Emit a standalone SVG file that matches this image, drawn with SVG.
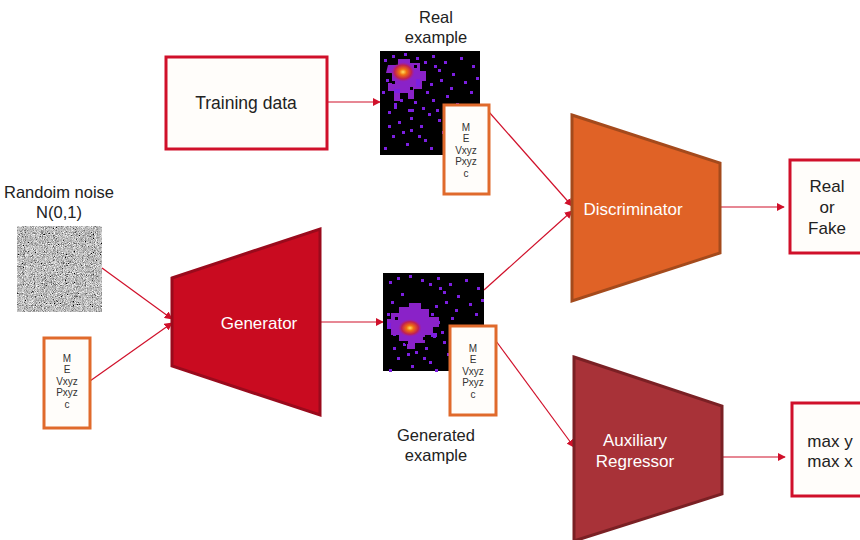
<svg xmlns="http://www.w3.org/2000/svg" width="860" height="540" viewBox="0 0 860 540">
<style>
text{font-family:"Liberation Sans",Arial,sans-serif;}
.lbl{font-size:16.5px;fill:#222;text-anchor:middle;}
.wl{font-size:17px;fill:#fff;text-anchor:middle;}
.sm{font-size:10px;fill:#333;text-anchor:middle;}
.box{fill:#fffdfa;stroke:#d0102a;stroke-width:3;}
.pbox{fill:#fffdfa;stroke:#e06a2c;stroke-width:3;}
.conn{stroke:#d0102a;stroke-width:1.2;fill:none;marker-end:url(#ah);}
.d{fill:#7c1fe0;}
.c{fill:#8a22c8;}
</style>
<defs>
<marker id="ah" viewBox="0 0 10 10" refX="9" refY="5" markerWidth="8" markerHeight="8" markerUnits="userSpaceOnUse" orient="auto"><path d="M0,0 L10,5 L0,10 z" fill="#d0102a"/></marker>
<filter id="noise" x="0" y="0" width="100%" height="100%">
<feTurbulence type="fractalNoise" baseFrequency="1.1" numOctaves="2" seed="3"/>
<feColorMatrix type="matrix" values="0.9 0.9 0.9 0 -0.85  0.9 0.9 0.9 0 -0.85  0.9 0.9 0.9 0 -0.85  0 0 0 0 1"/>
</filter>
<radialGradient id="hot">
<stop offset="0" stop-color="#ffe060"/>
<stop offset="0.3" stop-color="#f07010"/>
<stop offset="0.7" stop-color="#c02050"/>
<stop offset="1" stop-color="#a020a0" stop-opacity="0"/>
</radialGradient>
<g id="scatter">
<rect class="d" x="4" y="8" width="3" height="3"/><rect class="d" x="12" y="4" width="3" height="3"/><rect class="d" x="24" y="2" width="3" height="3"/>
<rect class="d" x="36" y="6" width="3" height="3"/><rect class="d" x="52" y="4" width="3" height="3"/><rect class="d" x="64" y="10" width="3" height="3"/>
<rect class="d" x="80" y="6" width="3" height="3"/><rect class="d" x="92" y="14" width="3" height="3"/><rect class="d" x="72" y="22" width="3" height="3"/>
<rect class="d" x="84" y="30" width="3" height="3"/><rect class="d" x="60" y="28" width="3" height="3"/><rect class="d" x="90" y="40" width="3" height="3"/>
<rect class="d" x="66" y="44" width="3" height="3"/><rect class="d" x="76" y="52" width="3" height="3"/><rect class="d" x="56" y="58" width="3" height="3"/>
<rect class="d" x="88" y="62" width="3" height="3"/><rect class="d" x="8" y="60" width="3" height="3"/><rect class="d" x="18" y="70" width="3" height="3"/>
<rect class="d" x="30" y="66" width="3" height="3"/><rect class="d" x="40" y="74" width="3" height="3"/><rect class="d" x="12" y="84" width="3" height="3"/>
<rect class="d" x="26" y="92" width="3" height="3"/><rect class="d" x="44" y="88" width="3" height="3"/><rect class="d" x="50" y="96" width="3" height="3"/>
<rect class="d" x="4" y="96" width="3" height="3"/><rect class="d" x="70" y="70" width="3" height="3"/><rect class="d" x="62" y="80" width="3" height="3"/>
<rect class="d" x="34" y="50" width="3" height="3"/><rect class="d" x="46" y="40" width="3" height="3"/><rect class="d" x="2" y="40" width="3" height="3"/>
<rect class="d" x="20" y="48" width="3" height="3"/><rect class="d" x="82" y="86" width="3" height="3"/><rect class="d" x="94" y="92" width="3" height="3"/>
<rect class="d" x="58" y="18" width="3" height="3"/><rect class="d" x="48" y="62" width="3" height="3"/><rect class="d" x="38" y="84" width="3" height="3"/>
<rect class="d" x="6" y="28" width="3" height="3"/><rect class="d" x="14" y="52" width="3" height="6"/><rect class="d" x="28" y="58" width="6" height="3"/>
<rect class="d" x="42" y="56" width="3" height="3"/><rect class="d" x="52" y="48" width="3" height="3"/><rect class="d" x="50" y="32" width="3" height="3"/>
<rect class="d" x="54" y="14" width="3" height="3"/><rect class="d" x="44" y="10" width="3" height="3"/><rect class="d" x="30" y="78" width="3" height="3"/>
<rect class="d" x="22" y="80" width="3" height="3"/><rect class="d" x="8" y="74" width="3" height="3"/><rect class="d" x="58" y="68" width="3" height="3"/>
<rect class="d" x="66" y="92" width="3" height="3"/><rect class="d" x="78" y="76" width="3" height="3"/><rect class="d" x="96" y="70" width="3" height="3"/>
<rect class="d" x="96" y="26" width="3" height="3"/><rect class="d" x="70" y="36" width="3" height="3"/><rect class="d" x="16" y="20" width="3" height="3"/>
</g>
</defs>

<g id="connectors">
<line class="conn" x1="327" y1="102" x2="380" y2="102"/>
<line class="conn" x1="102" y1="268" x2="172" y2="319"/>
<line class="conn" x1="90" y1="381" x2="172" y2="323"/>
<line class="conn" x1="320" y1="322" x2="383" y2="322"/>
<line class="conn" x1="489" y1="112" x2="572" y2="206"/>
<line class="conn" x1="484" y1="290" x2="572" y2="211"/>
<line class="conn" x1="496" y1="341" x2="574" y2="447"/>
<line class="conn" x1="720" y1="207" x2="784" y2="207"/>
<line class="conn" x1="722" y1="457" x2="785" y2="457"/>
</g>

<g id="training-data">
<rect class="box" x="166" y="57" width="161" height="92"/>
<text class="lbl" x="246" y="109" style="font-size:17.5px">Training data</text>
</g>

<g id="real-example">
<text class="lbl" x="436" y="23">Real</text>
<text class="lbl" x="436" y="43">example</text>
<rect x="380" y="51" width="100" height="104" fill="#000"/>
<g transform="translate(380,51)">
<use href="#scatter"/>
<path class="c" d="M8,14 h10 v-6 h12 v4 h10 v8 h6 v10 h-4 v8 h-8 v10 h-6 v-6 h-8 v8 h-6 v-10 h-6 v-8 h4 v-10 h-6 z"/>
<rect class="d" x="36" y="28" width="4" height="8"/><rect class="d" x="14" y="38" width="6" height="4"/>
<rect fill="#000" x="12" y="30" width="3" height="3"/><rect fill="#000" x="30" y="36" width="3" height="3"/><rect fill="#000" x="34" y="14" width="3" height="3"/>
<ellipse cx="23" cy="21" rx="12" ry="10" fill="url(#hot)"/>
</g>
</g>
<g id="real-params">
<rect class="pbox" x="444" y="105" width="45" height="89"/>
<text class="sm" x="466" y="131">M</text>
<text class="sm" x="466" y="142">E</text>
<text class="sm" x="466" y="154">Vxyz</text>
<text class="sm" x="466" y="165">Pxyz</text>
<text class="sm" x="466" y="177">c</text>
</g>

<g id="noise">
<text class="lbl" x="59" y="198">Randoim noise</text>
<text class="lbl" x="59" y="218">N(0,1)</text>
<rect x="17" y="226" width="85" height="86" fill="#777" filter="url(#noise)"/>
</g>
<g id="noise-params">
<rect class="pbox" x="44" y="338" width="46" height="90"/>
<text class="sm" x="67" y="362">M</text>
<text class="sm" x="67" y="373">E</text>
<text class="sm" x="67" y="385">Vxyz</text>
<text class="sm" x="67" y="396">Pxyz</text>
<text class="sm" x="67" y="408">c</text>
</g>

<g id="generator">
<path d="M172,278 L320,229 L320,415 L172,366 Z" fill="#c90b20" stroke="#9a0a1c" stroke-width="3"/>
<text class="wl" x="259" y="329">Generator</text>
</g>

<g id="generated-example">
<rect x="383" y="273" width="101" height="98" fill="#000"/>
<g transform="translate(385,273)">
<use href="#scatter"/>
<path class="c" d="M6,40 h8 v-6 h10 v-4 h12 v6 h8 v8 h10 v10 h-6 v8 h-8 v8 h-10 v6 h-8 v-8 h-8 v-6 h-8 v-8 h-4 v-8 h4 z"/>
<rect class="d" x="2" y="50" width="4" height="6"/><rect class="d" x="46" y="60" width="6" height="4"/>
<rect fill="#000" x="10" y="44" width="3" height="3"/><rect fill="#000" x="38" y="64" width="3" height="3"/><rect fill="#000" x="20" y="68" width="3" height="3"/>
<ellipse cx="25" cy="55" rx="12" ry="9" fill="url(#hot)"/>
</g>
<text class="lbl" x="436" y="441">Generated</text>
<text class="lbl" x="436" y="461">example</text>
</g>
<g id="gen-params">
<rect class="pbox" x="450" y="326" width="46" height="89"/>
<text class="sm" x="473" y="352">M</text>
<text class="sm" x="473" y="363">E</text>
<text class="sm" x="473" y="375">Vxyz</text>
<text class="sm" x="473" y="386">Pxyz</text>
<text class="sm" x="473" y="398">c</text>
</g>

<g id="discriminator">
<path d="M572,115 L720,163 L720,253 L572,301 Z" fill="#e06226" stroke="#a44a1c" stroke-width="3"/>
<text class="wl" x="633" y="215">Discriminator</text>
</g>

<g id="aux-regressor">
<path d="M574,357 L722,406 L722,494 L574,541 Z" fill="#a83238" stroke="#7a2024" stroke-width="3"/>
<text class="wl" x="635" y="446">Auxiliary</text>
<text class="wl" x="635" y="467">Regressor</text>
</g>

<g id="real-or-fake">
<rect class="box" x="790" y="160" width="74" height="93"/>
<text class="lbl" x="827" y="192" style="font-size:17px">Real</text>
<text class="lbl" x="827" y="213" style="font-size:17px">or</text>
<text class="lbl" x="827" y="234" style="font-size:17px">Fake</text>
</g>

<g id="max-out">
<rect class="box" x="792" y="403" width="72" height="93"/>
<text class="lbl" x="830" y="447" style="font-size:17px">max y</text>
<text class="lbl" x="830" y="467" style="font-size:17px">max x</text>
</g>
</svg>
